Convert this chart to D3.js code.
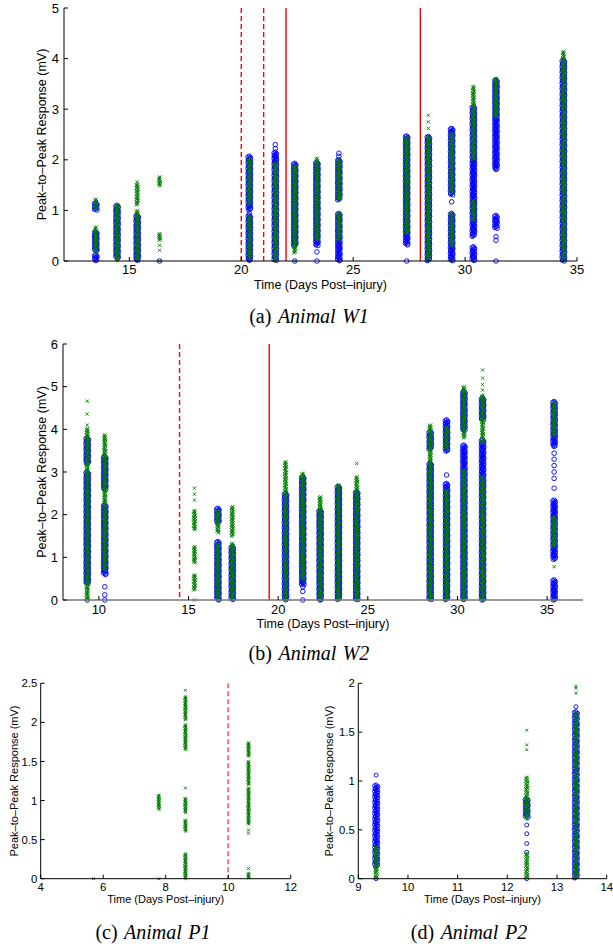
<!DOCTYPE html>
<html><head><meta charset="utf-8">
<script src="https://cdn.jsdelivr.net/npm/d3@7"></script>
<style>html,body{margin:0;padding:0;background:#fff;}svg{display:block;}</style>
</head><body>
<script>
// ---------- DATA ----------
// Bands: [day, low mV, high mV] — dense runs of measurements; Pts: [day, mV]
const w1BlueBands = [[13.5,1.0,1.15],[13.5,0.2,0.58],[13.5,0,0.12],[14.45,0.05,1.1],[15.35,0,0.9],
  [20.36,1.0,2.07],[20.36,0,0.9],[21.52,0,2.15],[22.39,0.3,1.93],[23.38,0.3,1.95],[24.36,1.2,2.0],[24.36,0,0.94],
  [27.39,0.31,2.47],[28.36,0,2.46],[29.4,1.3,2.62],[29.4,0,0.94],[30.37,0.48,3.05],[30.37,0,0.28],
  [31.38,1.8,3.58],[31.38,0.64,0.9],[34.39,0,3.97]];
const w1BluePts = [[16.35,0],[20.36,0.94],[21.52,2.3],[21.52,2.22],[22.39,0],[23.38,0.18],[23.38,0],
  [24.36,2.13],[24.36,2.07],[27.39,0],[29.4,1.17],[31.38,0.48],[31.38,0.41],[31.38,0]];
const w1GreenBands = [[13.5,1.0,1.22],[13.5,0.15,0.67],[14.45,0,1.1],[15.35,0,1.0],[15.35,1.1,1.52],
  [16.35,1.48,1.66],[16.35,0.41,0.54],[20.36,1.1,2.03],[20.36,0.05,0.88],[21.52,0,1.93],[22.39,0.15,1.9],
  [23.38,0.41,2.03],[24.36,1.2,2.0],[24.36,0.41,0.94],[27.39,0.54,2.44],[28.36,0,2.46],[29.4,1.33,2.52],
  [29.4,0.28,0.94],[30.37,2.0,3.45],[30.37,0.8,1.2],[31.38,2.85,3.61],[34.39,0,4.14]];
const w1GreenPts = [[15.35,1.56],[16.35,0.31],[16.35,0.21],[16.35,0],[22.39,0],[28.36,2.62],[28.36,2.75],
  [28.36,2.88],[29.4,0]];
const w1Dashed = [20, 21];
const w1Solid = [22, 28];
const w1XTicks = [15, 20, 25, 30, 35];
const w1YTicks = [0, 1, 2, 3, 4, 5];

const w2BlueBands = [[9.35,0.39,3.0],[9.35,3.2,3.8],[10.33,2.58,3.36],[10.33,0.59,2.23],[16.64,1.8,2.15],
  [16.64,0,1.37],[17.44,0,1.25],[20.41,0,2.5],[21.37,0.35,2.89],[22.34,0,2.1],[23.36,0,2.66],[24.38,0,2.54],
  [28.48,3.52,3.95],[28.48,0,3.2],[29.39,3.48,4.22],[29.39,0,2.73],[30.36,3.98,4.88],[30.36,0,3.63],
  [31.4,4.22,4.73],[31.4,0,3.75],[35.39,3.6,4.65],[35.39,0.94,2.34],[35.39,0,0.47]];
const w2BluePts = [[9.35,0],[10.33,0.31],[10.33,0.12],[10.33,0],[21.37,0.31],[21.37,0.2],[21.37,0],
  [29.39,2.93],[35.39,3.44],[35.39,3.3],[35.39,3.15],[35.39,3.0],[35.39,2.85],[35.39,2.62]];
const w2GreenBands = [[9.35,0,4.02],[10.33,2.23,3.87],[10.33,0.7,2.2],[15.33,1.64,2.1],[15.33,0.86,1.25],
  [15.33,0.23,0.59],[16.64,1.56,2.1],[16.64,0,1.33],[17.44,1.48,2.19],[17.44,0,1.33],[20.41,0,3.24],
  [21.37,0.47,2.97],[22.34,0,2.42],[23.36,0,2.7],[24.38,0,2.89],[28.48,0,4.1],[29.39,3.52,4.06],[29.39,0,2.58],
  [30.36,3.8,5.0],[30.36,0,3.05],[31.4,3.67,4.8],[31.4,0,2.9],[35.39,3.83,4.65],[35.39,1.25,1.95]];
const w2GreenPts = [[9.35,4.1],[9.35,4.36],[9.35,4.66],[15.33,2.62],[15.33,2.48],[15.33,2.34],[15.33,0],
  [24.38,3.2],[31.4,4.92],[31.4,5.05],[31.4,5.2],[31.4,5.39],[35.39,0.78],[35.39,0]];
const w2Dashed = [14.5];
const w2Solid = [19.5];
const w2XTicks = [10, 15, 20, 25, 30, 35];
const w2YTicks = [0, 1, 2, 3, 4, 5, 6];

const p1GreenBands = [[7.78,0.88,1.07],[8.63,2.03,2.33],[8.63,1.65,1.97],[8.63,0.84,1.03],[8.63,0.6,0.75],
  [8.63,0,0.32],[10.65,1.56,1.74],[10.65,1.2,1.5],[10.65,0.69,1.16],[10.65,0,0.07]];
const p1GreenPts = [[5.69,0],[7.78,0],[8.63,2.41],[8.63,1.16],[10.65,0.62],[10.65,0.58],[10.65,0.13]];
const p1Dashed = [10];
const p1XTicks = [4, 6, 8, 10, 12];
const p1YTicks = [0, 0.5, 1, 1.5, 2, 2.5];

const p2BlueBands = [[9.36,0.12,0.96],[12.39,0.63,0.82],[13.38,0,1.71]];
const p2BluePts = [[9.36,1.06],[9.36,0],[12.39,0.55],[12.39,0.46],[12.39,0.36],[12.39,0.27],[12.39,0],[13.38,1.76]];
const p2GreenBands = [[9.36,0,0.33],[12.39,0.6,1.04],[12.39,0,0.26],[13.38,0,1.71]];
const p2GreenPts = [[12.39,1.52],[12.39,1.37],[12.39,1.32],[13.38,1.97],[13.38,1.95],[13.38,1.9]];
const p2XTicks = [9, 10, 11, 12, 13, 14];
const p2YTicks = [0, 0.5, 1, 1.5, 2];

const yLabel = "Peak\u2013to\u2013Peak Response (mV)";
const xLabel = "Time (Days Post\u2013injury)";

// ---------- LAYOUT ----------
const W = 613, H = 946;
const svg = d3.select("body").append("svg").attr("width", W).attr("height", H);
const SANS = "'Liberation Sans', Arial, Helvetica, sans-serif";
const SERIF = "'Liberation Serif', 'Times New Roman', serif";
const BLUE = "#0000ff", GREEN = "#008000";

const panels = [
  {xDom:[12.08,35], yDom:[0,5], xR:[64,577], yR:[261,8], xT:w1XTicks, yT:w1YTicks,
   bb:w1BlueBands, bp:w1BluePts, gb:w1GreenBands, gp:w1GreenPts, dashed:w1Dashed, solid:w1Solid,
   tickFs:13, labFs:12.5, yLabX:42, xLabY:289, xTickDy:13, yTickGap:5, axisColor:"#000",
   cap:["(a) ","Animal W1"], capX:309, capY:323, capFs:20, r:2.3, xs:1.6, bw:1.2, lineColor:"#ff0000", lineW:1.4},
  {xDom:[8,37], yDom:[0,6], xR:[63,583], yR:[600,344], xT:w2XTicks, yT:w2YTicks,
   bb:w2BlueBands, bp:w2BluePts, gb:w2GreenBands, gp:w2GreenPts, dashed:w2Dashed, solid:w2Solid,
   tickFs:13, labFs:12.5, yLabX:42, xLabY:628, xTickDy:13.5, yTickGap:5, axisColor:"#777",
   cap:["(b) ","Animal W2"], capX:309, capY:660, capFs:20, r:2.3, xs:1.6, bw:1.2, lineColor:"#ff0000", lineW:1.4},
  {xDom:[4,12], yDom:[0,2.5], xR:[40.7,290.7], yR:[878.7,683.3], xT:p1XTicks, yT:p1YTicks,
   bb:[], bp:[], gb:p1GreenBands, gp:p1GreenPts, dashed:p1Dashed, solid:[],
   tickFs:11.3, labFs:11, yLabX:14, xLabY:903, xTickDy:12.5, yTickGap:3.5, axisColor:"#000",
   cap:["(c) ","Animal P1"], capX:153, capY:939, capFs:20, r:2, xs:1.4, bw:0.8, lineColor:"#f26a6a", lineW:1.8},
  {xDom:[9,14], yDom:[0,2], xR:[358.3,606.7], yR:[878.7,683.3], xT:p2XTicks, yT:p2YTicks,
   bb:p2BlueBands, bp:p2BluePts, gb:p2GreenBands, gp:p2GreenPts, dashed:[], solid:[],
   tickFs:11.3, labFs:11, yLabX:329, xLabY:903, xTickDy:12.5, yTickGap:3.5, axisColor:"#000",
   cap:["(d) ","Animal P2"], capX:469, capY:939, capFs:20, r:2, xs:1.4, bw:1.6, lineColor:"#ff0000", lineW:1.4}
];

const fmt = v => (Math.round(v*10)/10).toString();

function expandBands(bands, y, step) {
  const out = [];
  bands.forEach(([d, lo, hi]) => {
    const p0 = y(lo), p1 = y(hi);
    let k = 0;
    for (let p = p1; p <= p0 + 0.01; p += step, k++) out.push({d, py: p, k});
    if (p0 - p1 < step) out.push({d, py: p0, k: k});
  });
  return out;
}

panels.forEach(P => {
  const x = d3.scaleLinear().domain(P.xDom).range(P.xR);
  const y = d3.scaleLinear().domain(P.yDom).range(P.yR);
  const g = svg.append("g");
  const off = [0, -1, 1, 0.5, -0.5, -0.8, 0.8];

  // event lines
  P.dashed.forEach(d => g.append("line").attr("x1", x(d)).attr("x2", x(d)).attr("y1", P.yR[1]).attr("y2", P.yR[0])
    .attr("stroke", P.lineColor).attr("stroke-width", P.lineW).attr("stroke-dasharray", "5,3"));
  P.solid.forEach(d => g.append("line").attr("x1", x(d)).attr("x2", x(d)).attr("y1", P.yR[1]).attr("y2", P.yR[0])
    .attr("stroke", P.lineColor).attr("stroke-width", P.lineW));

  // blue circles
  const blue = expandBands(P.bb, y, 0.8).concat(P.bp.map(([d, v], k) => ({d, py: y(v), k: 0, single: true})));
  g.append("g").selectAll("circle").data(blue).join("circle")
    .attr("cx", o => x(o.d) + (o.single ? 0 : off[o.k % 7] * P.bw)).attr("cy", o => o.py).attr("r", P.r)
    .attr("fill", "none").attr("stroke", BLUE).attr("stroke-width", 0.9);

  // green crosses
  const green = expandBands(P.gb, y, 0.8).concat(P.gp.map(([d, v], k) => ({d, py: y(v), k: 0, single: true})));
  const s = P.xs;
  g.append("g").selectAll("path").data(green).join("path")
    .attr("transform", o => `translate(${x(o.d) + (o.single ? 0 : off[(o.k + 3) % 7] * 0.7 * P.bw)},${o.py})`)
    .attr("d", `M${-s},${-s}L${s},${s}M${-s},${s}L${s},${-s}`)
    .attr("stroke", GREEN).attr("stroke-width", 0.9).attr("fill", "none");

  // axes (MATLAB style, inward ticks)
  const ax = g.append("g");
  ax.append("line").attr("x1", P.xR[0]).attr("x2", P.xR[1]).attr("y1", P.yR[0]).attr("y2", P.yR[0])
    .attr("stroke", P.axisColor).attr("stroke-width", P.axisColor === "#000" ? 1 : 1.6);
  ax.append("line").attr("x1", P.xR[0]).attr("x2", P.xR[0]).attr("y1", P.yR[0]).attr("y2", P.yR[1])
    .attr("stroke", "#000").attr("stroke-width", 1);
  P.xT.forEach(t => {
    ax.append("line").attr("x1", x(t)).attr("x2", x(t)).attr("y1", P.yR[0]).attr("y2", P.yR[0] - 4)
      .attr("stroke", "#000").attr("stroke-width", 1);
    ax.append("text").attr("x", x(t)).attr("y", P.yR[0] + P.xTickDy).attr("text-anchor", "middle")
      .attr("font-family", SANS).attr("font-size", P.tickFs).text(fmt(t));
  });
  P.yT.forEach(t => {
    ax.append("line").attr("x1", P.xR[0]).attr("x2", P.xR[0] + 4).attr("y1", y(t)).attr("y2", y(t))
      .attr("stroke", "#000").attr("stroke-width", 1);
    ax.append("text").attr("x", P.xR[0] - P.yTickGap).attr("y", y(t)).attr("dy", "0.36em")
      .attr("text-anchor", "end").attr("font-family", SANS).attr("font-size", P.tickFs).text(fmt(t));
  });
  // axis titles
  const cy = (P.yR[0] + P.yR[1]) / 2;
  ax.append("text").attr("transform", `translate(${P.yLabX},${cy}) rotate(-90)`).attr("dy", "0.35em")
    .attr("text-anchor", "middle").attr("font-family", SANS).attr("font-size", P.labFs).text(yLabel);
  ax.append("text").attr("x", (P.xR[0] + P.xR[1]) / 2).attr("y", P.xLabY).attr("text-anchor", "middle")
    .attr("font-family", SANS).attr("font-size", P.labFs).text(xLabel);
  // caption
  const cap = ax.append("text").attr("x", P.capX).attr("y", P.capY).attr("text-anchor", "middle")
    .attr("font-family", SERIF).attr("font-size", P.capFs).attr("word-spacing", 1.5);
  cap.append("tspan").text(P.cap[0]);
  cap.append("tspan").attr("font-style", "italic").text(P.cap[1]);
});
</script>
</body></html>
